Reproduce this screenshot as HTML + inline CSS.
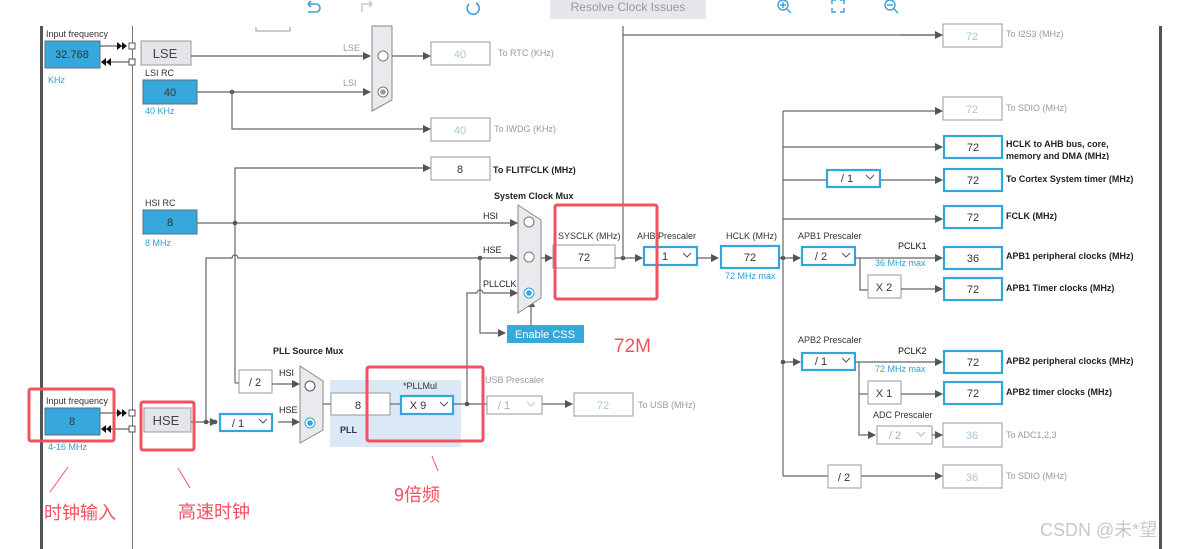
<!DOCTYPE html>
<html><head><meta charset="utf-8"><style>
html,body{margin:0;padding:0;background:#fff;width:1183px;height:549px;overflow:hidden}
svg{display:block;font-family:"Liberation Sans","Noto Sans CJK SC",sans-serif}
.l{stroke:#666;stroke-width:1.2;fill:none}
.t{font-size:9px;fill:#333}
.b{font-size:9px;fill:#222;font-weight:bold}
.g{font-size:9px;fill:#999}
.bl{font-size:9px;fill:#2f9fd6}
.bx{fill:#fff;stroke:#999;stroke-width:1}
.bb{fill:#fff;stroke:#34a6d9;stroke-width:2.2}
.bf{fill:#36a8db;stroke:#5a6f80;stroke-width:1}
.gy{fill:#e3e5e8;stroke:#999;stroke-width:1}
.v{font-size:11px;fill:#333;text-anchor:middle}
.vg{font-size:11px;fill:#aac6dc;text-anchor:middle}
.red{fill:none;stroke:#f5505f;stroke-width:3}
</style></head><body>
<svg width="1183" height="549" viewBox="0 0 1183 549">
<defs>
<marker id="a" markerWidth="8" markerHeight="8" refX="7" refY="4" orient="auto" markerUnits="userSpaceOnUse"><path d="M0,0L8,4L0,8z" fill="#555"/></marker>
</defs>
<!-- toolbar -->
<rect x="550" y="0" width="156" height="19" fill="#e5e7ea"/>
<text x="628" y="11" font-size="12" fill="#999" text-anchor="middle">Resolve Clock Issues</text>
<path d="M308,4h8a4,4 0 0 1 0,8h-8M308,4l3,-3M308,4l3,3" stroke="#3aa0d8" stroke-width="1.6" fill="none"/>
<path d="M362,12v-8h10M372,4l-3,-3M372,4l-3,3" stroke="#ccc" stroke-width="1.6" fill="none"/>
<path d="M476,3a6,6 0 1 1 -7,1" stroke="#3aa0d8" stroke-width="1.6" fill="none"/>
<circle cx="783" cy="5" r="5" stroke="#3aa0d8" stroke-width="1.4" fill="none"/><path d="M780,5h6M783,2v6M787,9l4,4" stroke="#3aa0d8" stroke-width="1.4"/>
<path d="M832,4v-4h4M844,4v-4h-4M832,8v4h4M844,8v4h-4" stroke="#3aa0d8" stroke-width="1.4" fill="none"/>
<circle cx="890" cy="5" r="5" stroke="#3aa0d8" stroke-width="1.4" fill="none"/><path d="M887,5h6M894,9l4,4" stroke="#3aa0d8" stroke-width="1.4"/>
<!-- frame lines -->
<rect x="40" y="26" width="3" height="523" fill="#555"/>
<line x1="132.5" y1="26" x2="132.5" y2="549" stroke="#777" stroke-width="1"/>
<rect x="1159" y="26" width="3" height="523" fill="#555"/>
<path d="M256,27v4h34v-4" stroke="#999" fill="none"/>
<!-- LSE input -->
<text x="46" y="37" class="t">Input frequency</text>
<rect x="45" y="41" width="55" height="27" class="bf"/><text x="72" y="58" class="v">32.768</text>
<text x="48" y="83" class="bl">KHz</text>
<path d="M100,46h26M132,62h-26" class="l"/>
<path d="M117,42l5,4l-5,4zM122,42l5,4l-5,4zM106,58l-5,4l5,4zM111,58l-5,4l5,4z" fill="#111"/>
<rect x="129" y="43" width="6" height="6" fill="#fff" stroke="#555"/><rect x="129" y="59" width="6" height="6" fill="#fff" stroke="#555"/>
<rect x="141" y="41" width="50" height="24" class="gy"/><text x="165" y="58" font-size="13" fill="#444" text-anchor="middle">LSE</text>
<path d="M191,56H370" class="l" marker-end="url(#a)"/><text x="343" y="51" class="g">LSE</text>
<text x="145" y="76" class="t">LSI RC</text>
<rect x="143" y="80" width="54" height="24" class="bf"/><text x="170" y="96" class="v">40</text>
<text x="145" y="114" class="bl">40 KHz</text>
<path d="M197,92H370" class="l" marker-end="url(#a)"/><text x="343" y="86" class="g">LSI</text>
<circle cx="232" cy="92" r="2.3" fill="#555"/>
<path d="M232,92V129H430" class="l" marker-end="url(#a)"/>
<path d="M372,26H392V100L372,111Z" fill="#e8eaed" stroke="#888"/>
<circle cx="383" cy="56" r="5" fill="#fff" stroke="#777"/>
<circle cx="383" cy="92" r="5" fill="#fff" stroke="#777"/><circle cx="383" cy="92" r="2.8" fill="#999"/>
<path d="M392,56H430" class="l" marker-end="url(#a)"/>
<rect x="431" y="42" width="59" height="23" class="bx"/><text x="460" y="58" class="vg">40</text>
<text x="498" y="56" class="g">To RTC (KHz)</text>
<rect x="431" y="118" width="59" height="23" class="bx"/><text x="460" y="134" class="vg">40</text>
<text x="494" y="132" class="g">To IWDG (KHz)</text>
<!-- FLITF -->
<path d="M235,383V168H430" class="l" marker-end="url(#a)"/>
<rect x="431" y="157" width="59" height="23" class="bx"/><text x="460" y="173" class="v">8</text>
<text x="493" y="173" class="b">To FLITFCLK (MHz)</text>
<!-- HSI -->
<text x="145" y="206" class="t">HSI RC</text>
<rect x="143" y="210" width="54" height="24" class="bf"/><text x="170" y="226" class="v">8</text>
<text x="145" y="246" class="bl">8 MHz</text>
<path d="M197,223H517" class="l" marker-end="url(#a)"/><circle cx="235" cy="223" r="2.3" fill="#555"/>
<text x="483" y="219" class="b" style="font-weight:normal;fill:#222">HSI</text>
<!-- HSE to sysmux -->
<path d="M206,421V258H232a3,3 0 0 1 6,0H517" class="l" marker-end="url(#a)"/>
<text x="483" y="253" class="t" style="fill:#222">HSE</text>
<circle cx="480" cy="258" r="2.3" fill="#555"/>
<path d="M480,258V333H505" class="l" marker-end="url(#a)"/>
<rect x="507" y="325" width="77" height="18" fill="#36a8db"/><text x="545" y="338" font-size="11" fill="#fff" text-anchor="middle">Enable CSS</text>
<path d="M531,325V300" class="l" marker-end="url(#a)"/>
<!-- PLLCLK -->
<path d="M467,404V293H477a3,3 0 0 1 6,0H517" class="l" marker-end="url(#a)"/>
<text x="483" y="287" class="t" style="fill:#222">PLLCLK</text>
<text x="494" y="199" class="b">System Clock Mux</text>
<path d="M518,205L541,220V298L518,313Z" fill="#e8eaed" stroke="#888"/>
<circle cx="529" cy="222" r="5" fill="#fff" stroke="#777"/>
<circle cx="529" cy="257" r="5" fill="#fff" stroke="#777"/>
<circle cx="529" cy="293" r="5" fill="#fff" stroke="#34a6d9"/><circle cx="529" cy="293" r="2.8" fill="#34a6d9"/>
<path d="M541,258H552" class="l" marker-end="url(#a)"/>
<!-- SYSCLK -->
<text x="558" y="239" class="t">SYSCLK (MHz)</text>
<rect x="553" y="245" width="62" height="23" class="bx"/><text x="584" y="261" class="v">72</text>
<path d="M615,258H642" class="l" marker-end="url(#a)"/><circle cx="623" cy="258" r="2.3" fill="#555"/>
<path d="M623,258V26M623,35H942" class="l"/><path d="M900,35H942" class="l" marker-end="url(#a)"/>
<rect x="943" y="24" width="59" height="23" class="bx"/><text x="972" y="40" class="vg">72</text>
<text x="1006" y="37" class="g">To I2S3 (MHz)</text>
<text x="637" y="239" class="t">AHB Prescaler</text>
<rect x="644" y="247" width="53" height="18" class="bb"/><text x="665" y="260" class="v">1</text>
<path d="M683,253l4,4l4,-4" stroke="#555" fill="none"/>
<path d="M697,258H718" class="l" marker-end="url(#a)"/>
<text x="726" y="239" class="t">HCLK (MHz)</text>
<rect x="721" y="246" width="58" height="22" class="bb"/><text x="750" y="261" class="v">72</text>
<text x="725" y="279" class="bl">72 MHz max</text>
<path d="M779,258H800" class="l" marker-end="url(#a)"/><circle cx="783" cy="258" r="2.3" fill="#555"/>
<path d="M783,111V476" class="l"/>
<path d="M783,111H942" class="l" marker-end="url(#a)"/>
<path d="M783,147H942" class="l" marker-end="url(#a)"/>
<path d="M783,180H827M881,180H942" class="l" marker-end="url(#a)"/>
<path d="M783,219H942" class="l" marker-end="url(#a)"/>
<rect x="943" y="97" width="59" height="23" class="bx"/><text x="972" y="113" class="vg">72</text>
<text x="1006" y="111" class="g">To SDIO (MHz)</text>
<rect x="944" y="136" width="58" height="22" class="bb"/><text x="973" y="151" class="v">72</text>
<text x="1006" y="147" class="b">HCLK to AHB bus, core,</text>
<svg x="1000" y="150" width="120" height="10" overflow="hidden"><text x="6" y="9" class="b">memory and DMA (MHz)</text></svg>
<rect x="827" y="170" width="53" height="17" class="bb"/><text x="847" y="182" class="v">/ 1</text>
<path d="M866,175l4,4l4,-4" stroke="#555" fill="none"/>
<rect x="944" y="169" width="58" height="22" class="bb"/><text x="973" y="184" class="v">72</text>
<text x="1006" y="182" class="b">To Cortex System timer (MHz)</text>
<rect x="944" y="206" width="58" height="22" class="bb"/><text x="973" y="221" class="v">72</text>
<text x="1006" y="219" class="b">FCLK (MHz)</text>
<!-- APB1 -->
<text x="798" y="239" class="t">APB1 Prescaler</text>
<rect x="802" y="247" width="53" height="18" class="bb"/><text x="821" y="260" class="v">/ 2</text>
<path d="M842,253l4,4l4,-4" stroke="#555" fill="none"/>
<path d="M855,258H942" class="l" marker-end="url(#a)"/>
<text x="898" y="249" class="b" style="font-weight:normal;fill:#111">PCLK1</text>
<text x="875" y="266" class="bl">36 MHz max</text>
<path d="M860,258V290H868" class="l"/>
<rect x="868" y="275" width="33" height="23" class="bx"/><text x="884" y="291" class="v">X 2</text>
<path d="M901,289H942" class="l" marker-end="url(#a)"/>
<rect x="944" y="247" width="58" height="22" class="bb"/><text x="973" y="262" class="v">36</text>
<text x="1006" y="259" class="b">APB1 peripheral clocks (MHz)</text>
<rect x="944" y="278" width="58" height="22" class="bb"/><text x="973" y="293" class="v">72</text>
<text x="1006" y="291" class="b">APB1 Timer clocks (MHz)</text>
<!-- APB2 -->
<text x="798" y="343" class="t">APB2 Prescaler</text>
<path d="M783,362H800" class="l" marker-end="url(#a)"/><circle cx="783" cy="362" r="2.3" fill="#555"/>
<rect x="802" y="353" width="53" height="17" class="bb"/><text x="821" y="365" class="v">/ 1</text>
<path d="M842,358l4,4l4,-4" stroke="#555" fill="none"/>
<path d="M855,362H942" class="l" marker-end="url(#a)"/>
<text x="898" y="354" class="b" style="font-weight:normal;fill:#111">PCLK2</text>
<text x="875" y="372" class="bl">72 MHz max</text>
<rect x="944" y="351" width="58" height="22" class="bb"/><text x="973" y="366" class="v">72</text>
<text x="1006" y="364" class="b">APB2 peripheral clocks (MHz)</text>
<path d="M859,362V435H875" class="l" marker-end="url(#a)"/><path d="M859,394H868" class="l"/>
<rect x="868" y="381" width="33" height="23" class="bx"/><text x="884" y="397" class="v">X 1</text>
<path d="M901,394H942" class="l" marker-end="url(#a)"/>
<rect x="944" y="382" width="58" height="22" class="bb"/><text x="973" y="397" class="v">72</text>
<text x="1006" y="395" class="b">APB2 timer clocks (MHz)</text>
<text x="873" y="418" class="t">ADC Prescaler</text>
<rect x="877" y="426" width="55" height="18" class="bx"/><text x="895" y="439" class="vg" style="fill:#aaa">/ 2</text>
<path d="M917,432l4,4l4,-4" stroke="#bbb" fill="none"/>
<path d="M932,435H942" class="l" marker-end="url(#a)"/>
<rect x="943" y="423" width="59" height="24" class="bx"/><text x="972" y="439" class="vg">36</text>
<text x="1006" y="438" class="g">To ADC1,2,3</text>
<path d="M783,476H828M861,476H942" class="l" marker-end="url(#a)"/>
<rect x="828" y="465" width="33" height="23" class="bx"/><text x="844" y="481" class="v">/ 2</text>
<rect x="943" y="465" width="59" height="23" class="bx"/><text x="972" y="481" class="vg">36</text>
<text x="1006" y="479" class="g">To SDIO (MHz)</text>
<!-- HSE input -->
<text x="46" y="404" class="t">Input frequency</text>
<rect x="45" y="408" width="55" height="27" class="bf"/><text x="72" y="425" class="v">8</text>
<text x="48" y="450" class="bl">4-16 MHz</text>
<path d="M100,413h26M132,429h-26" class="l"/>
<path d="M117,409l5,4l-5,4zM122,409l5,4l-5,4zM106,425l-5,4l5,4zM111,425l-5,4l5,4z" fill="#111"/>
<rect x="129" y="410" width="6" height="6" fill="#fff" stroke="#555"/><rect x="129" y="426" width="6" height="6" fill="#fff" stroke="#555"/>
<rect x="144" y="408" width="47" height="24" class="gy"/><text x="166" y="425" font-size="13" fill="#444" text-anchor="middle">HSE</text>
<path d="M191,422H217" class="l" marker-end="url(#a)"/><circle cx="206" cy="422" r="2.3" fill="#555"/><circle cx="215" cy="422" r="2.3" fill="#555"/>
<rect x="220" y="414" width="52" height="17" class="bb"/><text x="238" y="427" class="v">/ 1</text>
<path d="M259,419l4,4l4,-4" stroke="#555" fill="none"/>
<path d="M278,422H299" class="l" marker-end="url(#a)"/>
<path d="M235,383H239" class="l"/>
<rect x="239" y="370" width="33" height="23" class="bx"/><text x="255" y="386" class="v">/ 2</text>
<path d="M272,384H299" class="l" marker-end="url(#a)"/>
<text x="279" y="376" class="t" style="fill:#222">HSI</text><text x="279" y="413" class="t" style="fill:#222">HSE</text>
<text x="273" y="354" class="b">PLL Source Mux</text>
<path d="M300,366L323,381V430L300,443Z" fill="#e8eaed" stroke="#888"/>
<circle cx="310" cy="386" r="5" fill="#fff" stroke="#555"/>
<circle cx="310" cy="423" r="5" fill="#fff" stroke="#34a6d9"/><circle cx="310" cy="423" r="2.8" fill="#34a6d9"/>
<rect x="330" y="380" width="131" height="67" fill="#dbe8f5"/>
<path d="M323,404H331" class="l"/>
<rect x="331" y="393" width="59" height="22" class="bx"/><text x="358" y="409" class="v">8</text>
<text x="340" y="433" class="b" style="fill:#334">PLL</text>
<path d="M390,404H400" class="l"/>
<text x="403" y="389" class="t">*PLLMul</text>
<rect x="401" y="396" width="52" height="18" class="bb"/><text x="418" y="409" class="v">X 9</text>
<path d="M440,402l4,4l4,-4" stroke="#555" fill="none"/>
<path d="M453,404H487" class="l"/><circle cx="467" cy="404" r="2.3" fill="#555"/>
<text x="485" y="383" class="g">USB Prescaler</text>
<rect x="487" y="396" width="55" height="18" class="bx"/><text x="504" y="409" class="vg" style="fill:#aaa">/ 1</text>
<path d="M527,402l4,4l4,-4" stroke="#ccc" fill="none"/>
<path d="M542,404H572" class="l" marker-end="url(#a)"/>
<rect x="574" y="393" width="59" height="23" class="bx"/><text x="603" y="409" class="vg">72</text>
<text x="638" y="408" class="g">To USB (MHz)</text>
<!-- red annotations -->
<rect x="29" y="389" width="85" height="52" rx="2" class="red"/>
<rect x="141" y="402" width="53" height="48" rx="2" class="red"/>
<rect x="367" y="367" width="116" height="74" rx="2" class="red"/>
<rect x="555" y="205" width="102" height="94" rx="2" class="red"/>
<path d="M68,467L50,492M178,468L190,488M432,456L438,471" stroke="#f5505f" stroke-width="1"/>
<text x="44" y="519" font-size="18" fill="#f5505f">时钟输入</text>
<text x="178" y="518" font-size="18" fill="#f5505f">高速时钟</text>
<text x="394" y="501" font-size="18" fill="#f5505f">9倍频</text>
<text x="614" y="352" font-size="19" fill="#f5505f">72M</text>
<text x="1040" y="536" font-size="18" fill="#c8c8c8">CSDN @未*望</text>
</svg>
</body></html>
